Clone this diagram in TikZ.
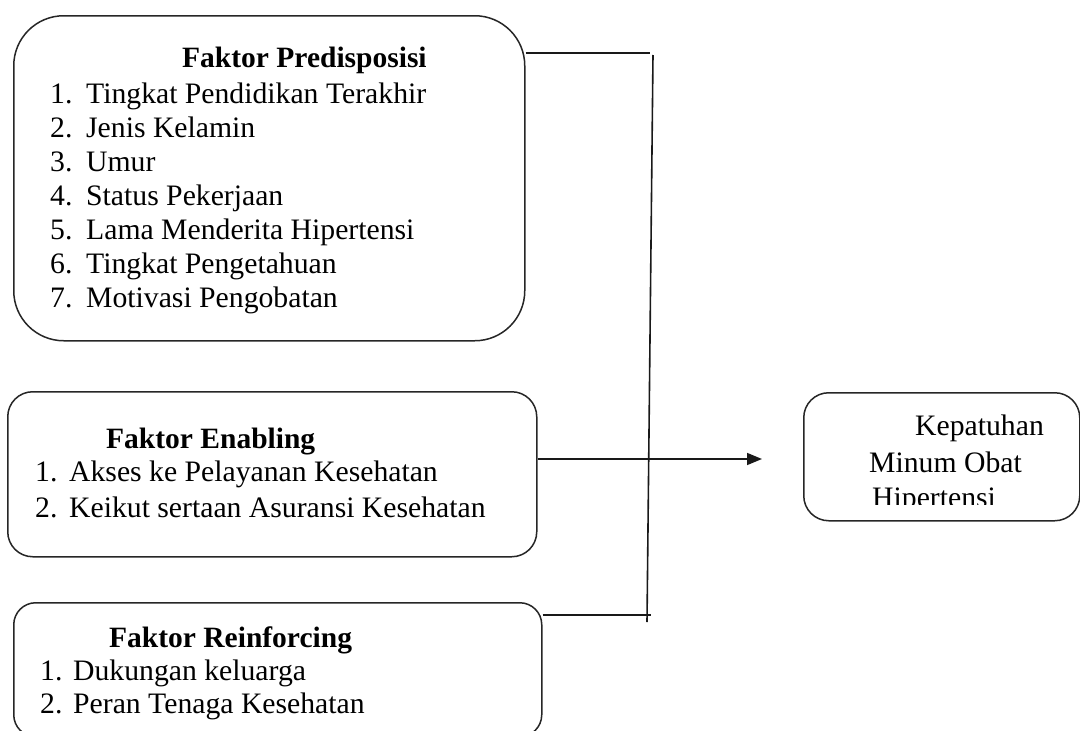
\documentclass[tikz,border=0pt]{standalone}
\usepackage{fontspec}
\setmainfont{Liberation Serif}
\usetikzlibrary{arrows.meta,calc}
\begin{document}
\begin{tikzpicture}[x=1pt,y=-1pt,
  frame/.style={draw=black!85, line width=1.5pt, inner sep=0pt, anchor=north west},
  link/.style={draw=black!90, line width=1.6pt},
  txt/.style={anchor=base west, inner sep=0pt, font=\fontsize{29.7}{34}\selectfont},
  head/.style={anchor=base west, inner sep=0pt, font=\fontsize{29.5}{34}\selectfont\bfseries},
]
\useasboundingbox (0,0) rectangle (1080,731);
\clip (0,0) rectangle (1080,731);
\fill[white] (0,0) rectangle (1080,731);

% boxes
\node[frame, rounded corners=50pt, minimum width=511pt, minimum height=325pt] (pre) at (13,15) {};
\node[frame, rounded corners=25pt, minimum width=529pt, minimum height=165pt] (ena) at (7,391) {};
\node[frame, rounded corners=22pt, minimum width=528pt, minimum height=134pt] (rei) at (13,602) {};
\node[frame, rounded corners=25pt, minimum width=276pt, minimum height=128pt] (out) at (803,392) {};

% predisposing factors
\node[head] (preh) at (182,67) {Faktor Predisposisi};
\node[txt] (p1) at (50,103) {\makebox[36pt][l]{1.}Tingkat Pendidikan Terakhir};
\node[txt] (p2) at (50,137) {\makebox[36pt][l]{2.}Jenis Kelamin};
\node[txt] (p3) at (50,171) {\makebox[36pt][l]{3.}Umur};
\node[txt] (p4) at (50,205) {\makebox[36pt][l]{4.}Status Pekerjaan};
\node[txt] (p5) at (50,239) {\makebox[36pt][l]{5.}Lama Menderita Hipertensi};
\node[txt] (p6) at (50,273) {\makebox[36pt][l]{6.}Tingkat Pengetahuan};
\node[txt] (p7) at (50,307) {\makebox[36pt][l]{7.}Motivasi Pengobatan};

% enabling factors
\node[head] (enah) at (106,448) {Faktor Enabling};
\node[txt] (e1) at (35,481) {\makebox[34pt][l]{1.}Akses ke Pelayanan Kesehatan};
\node[txt] (e2) at (35,517) {\makebox[34pt][l]{2.}Keikut sertaan Asuransi Kesehatan};

% reinforcing factors
\node[head] (reih) at (109,647) {Faktor Reinforcing};
\node[txt] (r1) at (40,680) {\makebox[33pt][l]{1.}Dukungan keluarga};
\node[txt] (r2) at (40,713) {\makebox[33pt][l]{2.}Peran Tenaga Kesehatan};

% outcome
\node[txt] (o1) at (915,435) {Kepatuhan};
\node[txt] (o2) at (869,472) {Minum Obat};
\begin{scope}
  \clip (805,480) rectangle (1078,504);
  \node[txt] (o3) at (872,507) {Hipertensi};
\end{scope}

% connectors
\coordinate (jtop) at (650,53);
\coordinate (vtop) at (653,55);
\coordinate (vbot) at (647,622);
\coordinate (jbot) at (651,615);
\coordinate (tip) at (762,459);
\draw[link] ($(pre.north east)+(0,38)$) -- (jtop);
\draw[link] (vtop) -- (vbot);
\draw[link] ($(rei.north east)+(0,13)$) -- (jbot);
\draw[link, -{Triangle[length=15pt,width=12pt]}] ($(ena.north east)+(0,68)$) -- (tip);
\end{tikzpicture}
\end{document}
